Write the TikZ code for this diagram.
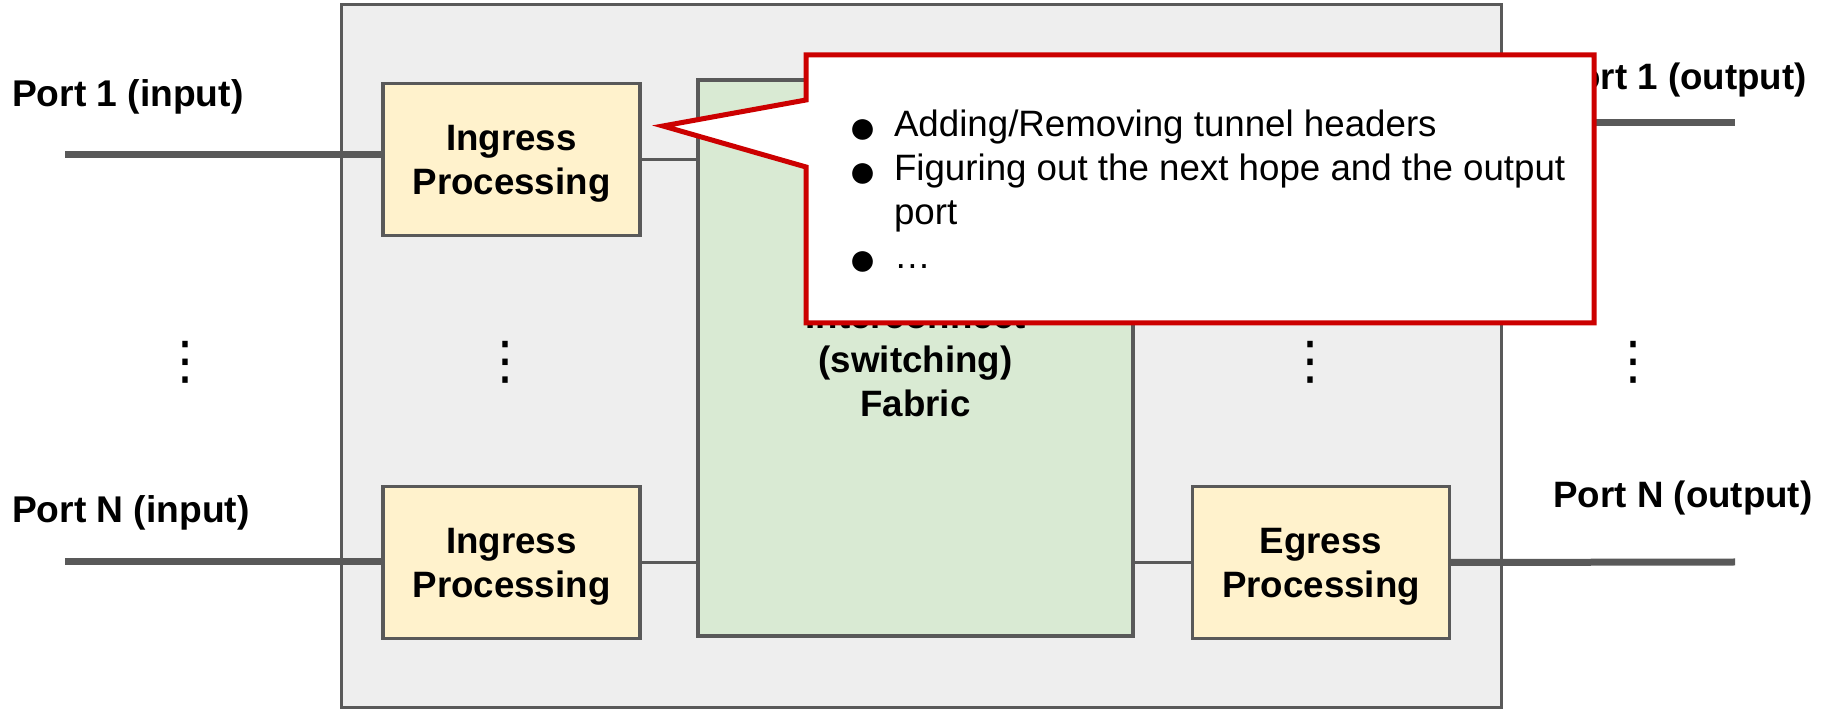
\documentclass[tikz,border=0pt]{standalone}
\usepackage{fontspec}
\setmainfont{Liberation Sans}
\newfontfamily\symfont{DejaVu Sans}
\usetikzlibrary{calc}
\definecolor{linegray}{HTML}{595959}
\definecolor{chassis}{HTML}{EEEEEE}
\definecolor{procfill}{HTML}{FFF2CC}
\definecolor{fabricfill}{HTML}{D9EAD3}
\definecolor{notered}{HTML}{CC0000}
\def\px{0.5pt}
\newcommand\labelfont{\fontsize{18.35pt}{22pt}\selectfont\bfseries}
\newcommand\portfont{\fontsize{18.6pt}{22pt}\selectfont\bfseries}
\newcommand\notefont{\fontsize{18.35pt}{22pt}\selectfont}
\newcommand\notebullet{\smash{\raisebox{-3.3pt}{\fontsize{24pt}{24pt}\selectfont ●}}}
\pgfdeclarelayer{back}
\pgfdeclarelayer{wires}
\pgfsetlayers{back,wires,main}
\begin{document}
\begin{tikzpicture}[x=0.5pt, y=-0.5pt,
  every node/.style={inner sep=0pt, outer sep=0pt},
  chassisbox/.style={draw=linegray, line width=1.5pt, fill=chassis,
    minimum width=1160*\px, minimum height=703*\px},
  procbox/.style={draw=linegray, line width=1.6pt, fill=procfill,
    minimum width=257*\px, minimum height=152*\px},
  fabricbox/.style={draw=linegray, line width=1.6pt, fill=fabricfill,
    minimum width=435*\px, minimum height=556*\px},
  boxtext/.style={align=center, font=\labelfont},
  portline/.style={draw=linegray, line width=3.5pt},
  link/.style={draw=linegray, line width=1.5pt},
  lbl/.style={anchor=base west, font=\labelfont},
  vdots/.style={font=\fontsize{26pt}{26pt}\selectfont\symfont},
  notebox/.style={draw=notered, line width=2.5pt, fill=white, line join=miter}]

\useasboundingbox (0,0) rectangle (1827,710);

% router chassis
\begin{pgfonlayer}{back}
  \node[chassisbox] (router) at (921,356.5) {};
\end{pgfonlayer}

% processing stages and switching fabric
\node[procbox] (in1) at (511.5,159.5) {};
\node[procbox] (inN) at (511.5,562.5) {};
\node[fabricbox] (fab) at (915.5,358) {};
\node[procbox] (egN) at (1321,562.5) {};
\node[boxtext] (in1-text) at ([yshift=-2pt]in1.center) {Ingress\\Processing};
\node[boxtext] (inN-text) at ([yshift=-2pt]inN.center) {Ingress\\Processing};
\node[boxtext] (fab-text) at ([yshift=-1pt]fab.center) {Interconnect\\(switching)\\Fabric};
\node[boxtext] (egN-text) at ([yshift=-2pt]egN.center) {Egress\\Processing};

% free ends of the port lines
\coordinate (p1in) at (65,155);
\coordinate (pNin) at (65,562);
\coordinate (p1out) at (1735,123);
\coordinate (pNout) at (1735,562);

\begin{pgfonlayer}{wires}
  \draw[portline] (p1in) -- (p1in -| in1.west);
  \draw[portline] (pNin) -- (pNin -| inN.west);
  \draw[portline] (egN.east) -- (pNout);
  \draw[portline] (p1out -| router.east) -- (p1out);
  \draw[link] (in1.east) -- (in1.east -| fab.west);
  \draw[link] (inN.east) -- (inN.east -| fab.west);
  \draw[link] (egN.west -| fab.east) -- (egN.west);
\end{pgfonlayer}

% port labels
\node[lbl, font=\portfont] (l1in) at (12,107) {Port 1 (input)};
\node[lbl, font=\portfont] (lNin) at (12,523) {Port N (input)};
\node[lbl] (l1out) at (1554,90) {Port 1 (output)};
\node[lbl] (lNout) at (1553.5,508) {Port N (output)};

% vertical ellipses between port 1 and port N
\node[vdots] (d1) at (185,362) {⋮};
\node[vdots] (d2) at (505,362) {⋮};
\node[vdots] (d3) at (1310,362) {⋮};
\node[vdots] (d4) at (1633,362) {⋮};

% callout pointing at the ingress stage
\coordinate (tip) at (663,126);
\node[minimum width=788*\px, minimum height=268*\px] (note) at (1200,189) {};
\draw[notebox] (note.north west) -- (note.north east) -- (note.south east)
  -- (note.south west) -- ($(note.west)+(0,-22)$) -- (tip)
  -- ($(note.west)+(0,-89)$) -- cycle;
\node[anchor=base west, font=\notefont] (notetext) at (848,137) {%
  \begin{tabular}[t]{@{}p{23pt}@{}l@{}}
    \notebullet & Adding/Removing tunnel headers\\
    \notebullet & Figuring out the next hope and the output\\
      & port\\
    \notebullet & …
  \end{tabular}};
\end{tikzpicture}
\end{document}
